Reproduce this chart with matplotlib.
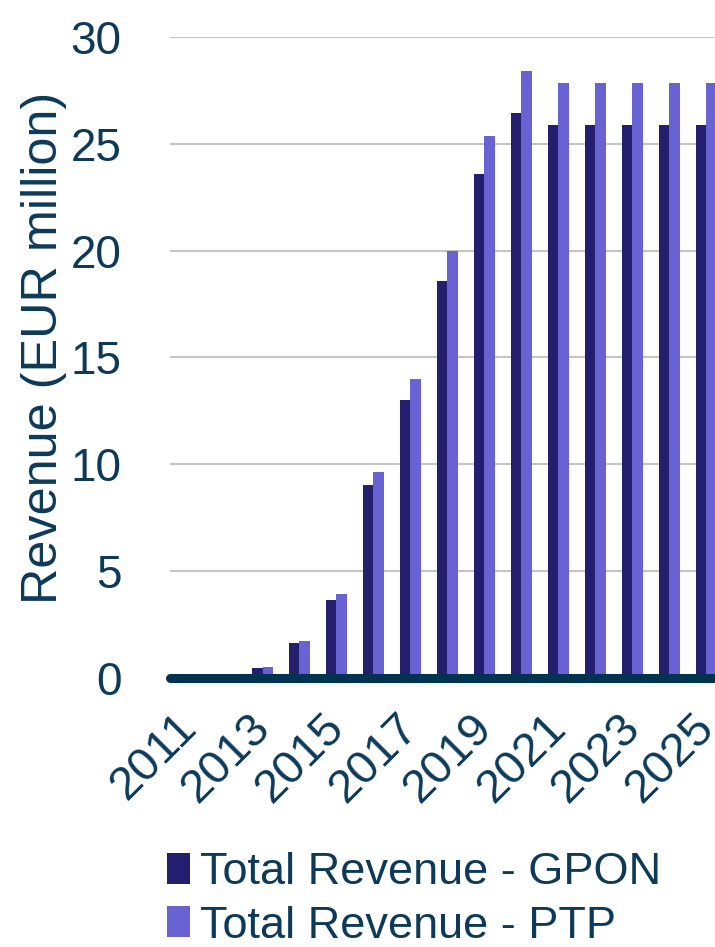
import matplotlib
matplotlib.use("Agg")
import matplotlib.pyplot as plt
import matplotlib.transforms as mtransforms
import numpy as np

years = list(range(2011, 2026))
gpon = [0, 0, 0.45, 1.63, 3.65, 9.03, 13.0, 18.6, 23.6, 26.45, 25.9, 25.9, 25.9, 25.9, 25.9]
ptp = [0, 0, 0.5, 1.73, 3.93, 9.65, 14.0, 20.0, 25.35, 28.4, 27.85, 27.85, 27.85, 27.85, 27.85]
y_ticks = [0, 5, 10, 15, 20, 25, 30]
series_labels = ["Total Revenue - GPON", "Total Revenue - PTP"]

text_color = "#0c3a58"
gpon_color = "#241e6e"
ptp_color = "#6962d2"

plt.rcParams["font.family"] = ["Liberation Sans", "DejaVu Sans"]

fig = plt.figure(figsize=(7.15, 9.47), dpi=100)
ax = fig.add_axes([0.2378, 0.2841, 0.776, 0.6768])

x = np.arange(len(years))
w = 0.284
b1 = ax.bar(x - w / 2, gpon, width=w, color=gpon_color, label=series_labels[0], zorder=2)
b2 = ax.bar(x + w / 2, ptp, width=w, color=ptp_color, label=series_labels[1], zorder=2)

ax.set_xlim(-0.5, len(years) - 0.5)
ax.set_ylim(0, 30)
ax.set_yticks(y_ticks)
ax.yaxis.grid(True, color="#c4c4c4", linewidth=1.5, zorder=0)
ax.set_axisbelow(True)
for s in ax.spines.values():
    s.set_visible(False)
ax.axhline(0, color="#00334f", linewidth=6.5, solid_capstyle="round", zorder=3, clip_on=False)

ax.tick_params(axis="y", length=0, pad=35, labelsize=33, labelcolor=text_color)
ax.tick_params(axis="x", length=0, pad=31, labelsize=34, labelcolor=text_color)
ax.set_xticks(x[::2])
ax.set_xticklabels([str(y) for y in years[::2]], rotation=45, ha="right",
                   va="center", rotation_mode="anchor")
shift = mtransforms.ScaledTranslation(1 / 100, 0, fig.dpi_scale_trans)
for lbl in ax.get_xticklabels():
    lbl.set_transform(lbl.get_transform() + shift)

fig.text(44 / 715, 1 - 348 / 947, "Revenue (EUR million)", rotation=90,
         ha="center", va="center", fontsize=36.3, color=text_color)

leg = fig.legend(handles=[b1, b2], labels=series_labels, loc="upper left",
                 bbox_to_anchor=(167 / 715, 1 - 852 / 947), frameon=False,
                 fontsize=32.5, handlelength=0.5, handleheight=0.67,
                 handletextpad=0.22, labelspacing=0.28, borderpad=0, borderaxespad=0)
for t in leg.get_texts():
    t.set_color(text_color)

fig.savefig("out.png", dpi=100)
